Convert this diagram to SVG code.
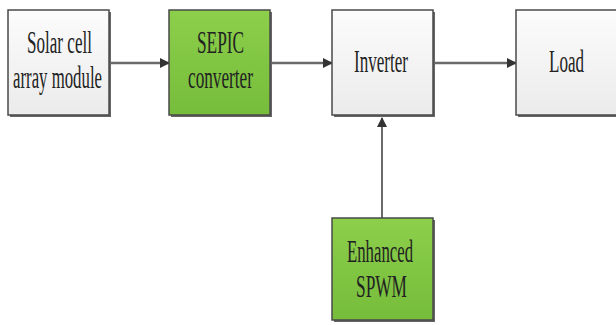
<svg xmlns="http://www.w3.org/2000/svg" width="616" height="325" viewBox="0 0 616 325">
<defs>
<linearGradient id="gw" x1="0" y1="0" x2="0" y2="1"><stop offset="0" stop-color="#fcfcfc"/><stop offset="1" stop-color="#ebebeb"/></linearGradient>
<linearGradient id="gg" x1="0" y1="0" x2="0" y2="1"><stop offset="0" stop-color="#8ccf4b"/><stop offset="1" stop-color="#76bd3b"/></linearGradient>
<marker id="ah" markerWidth="10" markerHeight="10" refX="9" refY="5" orient="auto" markerUnits="userSpaceOnUse"><path d="M0,0 L10,5 L0,10 Z" fill="#333"/></marker>
</defs>
<style>
.box{stroke:#4a4a4a;stroke-width:1.5}
.sh{fill:#666}
.t{font-family:"Liberation Serif","Times New Roman",serif;font-size:31px;fill:#222;text-anchor:start}
.c{fill:none;stroke:#6a6a6a;stroke-width:2.5}
</style>
<rect width="616" height="325" fill="#fff"/>
<g id="connectors">
<line class="c" x1="110" y1="63" x2="169" y2="63" marker-end="url(#ah)"/>
<line class="c" x1="272" y1="63" x2="332" y2="63" marker-end="url(#ah)"/>
<line class="c" x1="434" y1="63" x2="516" y2="63" marker-end="url(#ah)"/>
<line class="c" x1="382" y1="218" x2="382" y2="118" marker-end="url(#ah)" style="stroke-width:2"/>
</g>
<g id="solar">
<rect class="sh" x="10" y="12" width="101" height="105"/>
<rect class="box" x="8" y="10" width="101" height="105" fill="url(#gw)"/>
<text class="t" x="27" y="53" textLength="65" lengthAdjust="spacingAndGlyphs">Solar cell</text>
<text class="t" x="13" y="88" textLength="89" lengthAdjust="spacingAndGlyphs">array module</text>
</g>
<g id="sepic">
<rect class="sh" x="171" y="12" width="101" height="105"/>
<rect class="box" x="169" y="10" width="101" height="105" fill="url(#gg)"/>
<text class="t" x="197" y="53" textLength="47" lengthAdjust="spacingAndGlyphs">SEPIC</text>
<text class="t" x="188" y="88" textLength="65" lengthAdjust="spacingAndGlyphs">converter</text>
</g>
<g id="inverter">
<rect class="sh" x="334" y="12" width="101" height="105"/>
<rect class="box" x="332" y="10" width="101" height="105" fill="url(#gw)"/>
<text class="t" x="354" y="72" textLength="54" lengthAdjust="spacingAndGlyphs">Inverter</text>
</g>
<g id="load">
<rect class="sh" x="518" y="12" width="101" height="105"/>
<rect class="box" x="516" y="10" width="101" height="105" fill="url(#gw)"/>
<text class="t" x="549" y="72" textLength="35" lengthAdjust="spacingAndGlyphs">Load</text>
</g>
<g id="spwm">
<rect class="sh" x="334" y="220" width="101" height="102"/>
<rect class="box" x="332" y="218" width="101" height="102" fill="url(#gg)"/>
<text class="t" x="347" y="262" textLength="66" lengthAdjust="spacingAndGlyphs">Enhanced</text>
<text class="t" x="356" y="297" textLength="51" lengthAdjust="spacingAndGlyphs">SPWM</text>
</g>
</svg>
